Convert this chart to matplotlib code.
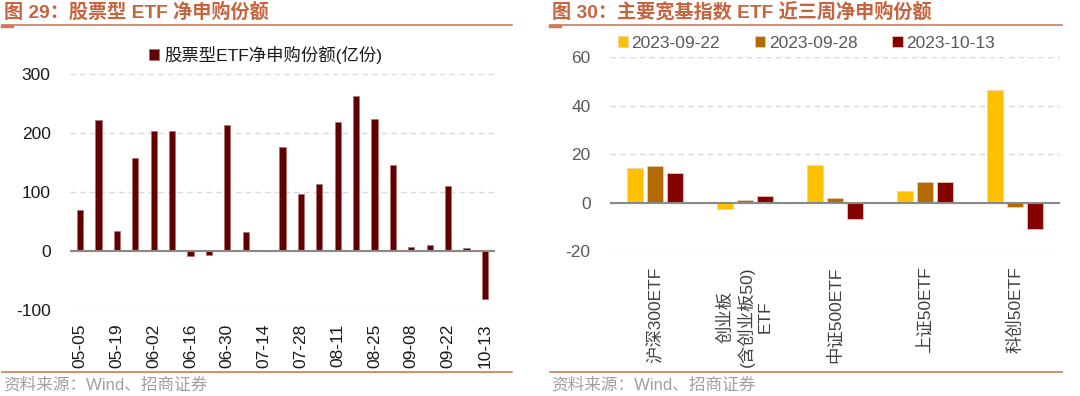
import matplotlib
matplotlib.use('Agg')
import matplotlib.pyplot as plt
import numpy as np
from matplotlib.lines import Line2D

plt.rcParams['font.family'] = ['Liberation Sans', 'Noto Sans CJK SC', 'DejaVu Sans']
plt.rcParams['axes.unicode_minus'] = False

# left chart data
weeks = ['05-05', '05-12', '05-19', '05-26', '06-02', '06-09', '06-16', '06-21',
         '06-30', '07-07', '07-14', '07-21', '07-28', '08-04', '08-11', '08-18',
         '08-25', '09-01', '09-08', '09-15', '09-22', '09-28', '10-13']
net_subs = [69, 222, 33, 157, 204, 203, -9, -7, 213, 32, -1, 176, 97, 113,
            219, 262, 223, 146, 7, 10, 110, 5, -83]

# right chart data
etfs = ['沪深300ETF', '创业板\n(含创业板50)\nETF', '中证500ETF', '上证50ETF', '科创50ETF']
dates = ['2023-09-22', '2023-09-28', '2023-10-13']
wk1 = [14.3, -2.6, 15.4, 4.8, 46.6]
wk2 = [14.9, 1.1, 1.9, 8.6, -1.7]
wk3 = [12.3, 2.8, -6.8, 8.4, -10.9]

W, H = 1080, 396
fig = plt.figure(figsize=(W / 100, H / 100), dpi=100)

title_c = '#C5643F'
rule_c = '#CD7A58'
src_c = '#A0A0A0'

def fx(px):
    return px / W

def fy(py):
    return 1 - py / H

# headers, rules and source lines
for x0, x1, title in [(2, 512, '图 29：股票型 ETF 净申购份额'),
                      (550, 1062, '图 30：主要宽基指数 ETF 近三周净申购份额')]:
    fig.text(fx(x0 + 2), fy(12), title, color=title_c, fontsize=13.8,
             fontweight='bold', va='center', ha='left')
    fig.add_artist(Line2D([fx(x0), fx(x1)], [fy(25), fy(25)], color=rule_c, lw=1.2))
    fig.add_artist(Line2D([fx(x0), fx(x0 + 10)], [fy(25.5), fy(25.5)], color=rule_c, lw=2.5))
    fig.add_artist(Line2D([fx(x0), fx(x1)], [fy(372), fy(372)], color=rule_c, lw=1.2))
    fig.text(fx(x0 + 1), fy(385), '资料来源：Wind、招商证券', color=src_c, fontsize=12,
             va='center', ha='left')

grid_kw = dict(color='#D9D9D9', linestyle=(0, (4, 3)), linewidth=1)

# ---- left chart
ax1 = fig.add_axes([fx(70), fy(309.5), fx(495 - 70), (309.5 - 74) / H])
x = np.arange(len(weeks))
ax1.bar(x, net_subs, 0.33, color='#600000', edgecolor='#B07070', linewidth=0.5,
        label='股票型ETF净申购份额(亿份)', zorder=3)
ax1.set_ylim(-100, 300)
ax1.set_yticks([-100, 0, 100, 200, 300])
ax1.set_xlim(-0.55, len(weeks) - 0.45)
ax1.set_xticks(x[::2])
ax1.set_xticklabels(weeks[::2], rotation=90)
ax1.yaxis.grid(True, **grid_kw)
ax1.set_axisbelow(True)
ax1.axhline(0, color='#898989', lw=1.5, zorder=4)
for s in ax1.spines.values():
    s.set_visible(False)
ax1.tick_params(axis='y', length=0, pad=14, labelsize=12.5, labelcolor='#1A1A1A')
ax1.tick_params(axis='x', length=0, pad=10, labelsize=12.5, labelcolor='#1A1A1A')
ax1.legend(loc='center left', bbox_to_anchor=(fx(140), fy(55)),
           bbox_transform=fig.transFigure, frameon=False, fontsize=12.5,
           handlelength=0.6, handleheight=0.6, handletextpad=0.3, borderpad=0,
           labelcolor='#1A1A1A')

# ---- right chart
ax2 = fig.add_axes([fx(610), fy(251), fx(1060 - 610), (251 - 57.3) / H])
xi = np.arange(len(etfs))
bw = 0.18
off = 0.222
for vals, col, lab, k in [(wk1, '#FFC000', dates[0], -1),
                          (wk2, '#B36A00', dates[1], 0),
                          (wk3, '#850000', dates[2], 1)]:
    ax2.bar(xi + k * off, vals, bw, color=col, edgecolor='#F2D0B0', linewidth=0.5,
            label=lab, zorder=3)
ax2.set_ylim(-20, 60)
ax2.set_yticks([-20, 0, 20, 40, 60])
ax2.set_xlim(-0.5, len(etfs) - 0.5)
ax2.set_xticks(xi)
ax2.set_xticklabels(etfs, rotation=90, multialignment='center')
ax2.yaxis.grid(True, **grid_kw)
ax2.set_axisbelow(True)
ax2.axhline(0, color='#898989', lw=1.5, zorder=4)
for s in ax2.spines.values():
    s.set_visible(False)
ax2.tick_params(axis='y', length=0, pad=14, labelsize=12.5, labelcolor='#595959')
ax2.tick_params(axis='x', length=0, pad=11, labelsize=12.5, labelcolor='#404040')
ax2.legend(loc='center left', bbox_to_anchor=(fx(609), fy(43)),
           bbox_transform=fig.transFigure, frameon=False, fontsize=12.5, ncol=3,
           handlelength=0.6, handleheight=0.6, handletextpad=0.2, borderpad=0,
           columnspacing=2.0, labelcolor='#595959')

fig.savefig('out.png', dpi=100)
